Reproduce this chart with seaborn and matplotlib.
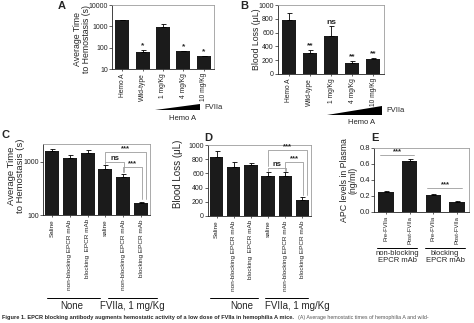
import matplotlib
matplotlib.use("Agg")
import matplotlib.pyplot as plt
import seaborn as sns
import pandas as pd
from matplotlib.patches import Polygon
from matplotlib.lines import Line2D
from matplotlib.ticker import FixedLocator, NullLocator, FixedFormatter

sns.set_theme(style="ticks")
plt.rcParams['font.family'] = ['Liberation Sans', 'DejaVu Sans']

# ---------------- data ----------------
ab_categories = ["Hemo A", "Wild-type", "1 mg/Kg", "4 mg/Kg", "10 mg/Kg"]
a_time = [1900, 63, 950, 72, 42]
a_time_top = [1900, 80, 1300, 72, 42]
a_marks = ["", "*", "", "*", "*"]
b_loss = [780, 308, 548, 163, 212]
b_loss_top = [885, 346, 692, 188, 236]
b_marks = ["", "**", "ns", "**", "**"]

cd_labels = ["Saline", "non-blocking EPCR mAb", "blocking  EPCR mAb",
             "saline", "non-blocking EPCR mAb", "blocking EPCR mAb"]
cd_groups = ["None", "None", "None",
             "FVIIa, 1 mg/Kg", "FVIIa, 1 mg/Kg", "FVIIa, 1 mg/Kg"]
c_time = [1585, 1155, 1475, 718, 524, 165]
c_time_top = [1700, 1330, 1650, 863, 587, 178]
d_loss = [836, 685, 718, 563, 563, 225]
d_loss_top = [920, 765, 742, 624, 615, 263]

e_labels = ["Pre-FVIIa", "Post-FVIIa", "Pre-FVIIa", "Post-FVIIa"]
e_groups = ["non-blocking\nEPCR mAb", "non-blocking\nEPCR mAb",
            "blocking\nEPCR mAb", "blocking\nEPCR mAb"]
e_apc = [0.25, 0.64, 0.2125, 0.125]
e_apc_top = [0.26, 0.66, 0.222, 0.133]

# significance brackets: (from, to, line level, left leg end, right leg end, text)
c_brackets = [(3, 5, 1515, 950, 200, "***"),
              (3, 4, 985, 905, 640, "ns"),
              (4, 5, 795, 650, 200, "***")]
d_brackets = [(3, 5, 930, 700, 290, "***"),
              (3, 4, 676, 640, 640, "ns"),
              (4, 5, 760, 640, 290, "***")]
e_brackets = [(0, 1, 0.71, "***"), (2, 3, 0.30, "***")]

caption_bold = ("Figure 1. EPCR blocking antibody augments hemostatic activity "
                "of a low dose of FVIIa in hemophilia A mice.")
caption_rest = "(A) Average hemostatic times of hemophilia A and wild-"

# ---------------- layout helpers ----------------
W, H = 474, 323
fig = plt.figure(figsize=(W / 100, H / 100), dpi=100)
BAR = "#1b1b1b"
GREY = "#9c9c9c"


def px_axes(x0, y0, x1, y1):
    return fig.add_axes([x0 / W, 1 - y1 / H, (x1 - x0) / W, (y1 - y0) / H])


def ftext(x, y, s, **kw):
    return fig.text(x / W, 1 - y / H, s, **kw)


def fline(x0, x1, y, **kw):
    fig.add_artist(Line2D([x0 / W, x1 / W], [1 - y / H, 1 - y / H],
                          transform=fig.transFigure, color="black", lw=0.7, **kw))


def style(ax, label_size=5, xrot=90, xsize=5):
    for s in ["left", "bottom"]:
        ax.spines[s].set_color("#222222")
        ax.spines[s].set_linewidth(0.6)
    for s in ["top", "right"]:
        ax.spines[s].set_visible(True)
        ax.spines[s].set_color(GREY)
        ax.spines[s].set_linewidth(0.6)
    ax.tick_params(axis="y", labelsize=label_size, length=2, width=0.5, pad=1,
                   colors="#222222")
    ax.tick_params(axis="x", labelsize=xsize, length=1.5, width=0.5, pad=1.5,
                   colors="#222222", labelrotation=xrot)
    ax.set_xlabel("")
    ax.grid(False)
    ax.set_facecolor("white")


def bars(ax, keys, vals, tops, width):
    df = pd.DataFrame({"k": keys, "v": vals})
    sns.barplot(data=df, x="k", y="v", color=BAR, saturation=1, width=width,
                errorbar=None, linewidth=0, ax=ax)
    n = len(vals)
    ax.errorbar(range(n), vals, yerr=[[0] * n, [t - v for t, v in zip(tops, vals)]],
                fmt="none", ecolor="black", elinewidth=0.6, capsize=1.8,
                capthick=0.6)
    ax.set_xlim(-0.5, n - 0.5)


def marks(ax, tops, texts):
    for i, (t, s) in enumerate(zip(tops, texts)):
        if s:
            ax.annotate(s, (i, t), xytext=(0, 0.3), textcoords="offset points",
                        ha="center", va="bottom", fontsize=6, fontweight="bold")


def brackets(ax, specs):
    for a, b, y, ya, yb, s in specs:
        xa, xb = a, b + (0.25 if b - a > 1 else 0.05)
        ax.plot([xa, xa, xb, xb], [ya, y, y, yb], color=GREY, lw=0.6,
                clip_on=False)
        ax.text((xa + xb) / 2, y, s, ha="center", va="bottom", fontsize=5.5,
                fontweight="bold", color="#222222")


# ---------------- Panel A ----------------
axA = px_axes(112, 5, 214, 69)
bars(axA, ab_categories, a_time, a_time_top, 0.68)
axA.set_yscale("log")
axA.set_ylim(10, 10000)
axA.yaxis.set_major_locator(FixedLocator([10, 100, 1000, 10000]))
axA.yaxis.set_major_formatter(FixedFormatter(["10", "100", "1000", "10000"]))
axA.yaxis.set_minor_locator(NullLocator())
marks(axA, a_time_top, a_marks)
style(axA)
axA.set_xticks(range(5))
axA.set_xticklabels(ab_categories, rotation=90, fontsize=4.8)
axA.set_ylabel("Average Time\nto Hemostasis (s)", fontsize=6.3, linespacing=1.0)
axA.yaxis.set_label_coords(-0.21, 0.47)

# ---------------- Panel B ----------------
axB = px_axes(278, 5, 384, 74)
bars(axB, ab_categories, b_loss, b_loss_top, 0.66)
axB.set_ylim(0, 1000)
axB.set_yticks([0, 200, 400, 600, 800, 1000])
marks(axB, b_loss_top, b_marks)
style(axB)
axB.set_xticks(range(5))
axB.set_xticklabels(ab_categories, rotation=90, fontsize=4.8)
axB.set_ylabel("Blood Loss (\u03bcL)", fontsize=6.3)
axB.yaxis.set_label_coords(-0.165, 0.5)

# wedges + labels under A and B
for (x0, x1, yb, yt, fx, fy, hx, hy) in [(155, 200, 110, 104, 204, 107, 183, 118),
                                          (327, 382, 115, 106, 386, 111, 362, 123)]:
    fig.add_artist(Polygon([[x0 / W, 1 - yb / H], [x1 / W, 1 - yb / H],
                            [x1 / W, 1 - yt / H]], closed=True,
                           transform=fig.transFigure, color="black", lw=0))
    ftext(fx, fy, "FVIIa", fontsize=5.5, va="center", ha="left")
    ftext(hx, hy, "Hemo A", fontsize=5.5, va="center", ha="center")

# ---------------- Panel C ----------------
cd_keys = [f"{g}|{l}|{i}" for i, (g, l) in enumerate(zip(cd_groups, cd_labels))]
axC = px_axes(43, 144, 150, 215)
bars(axC, cd_keys, c_time, c_time_top, 0.78)
axC.set_yscale("log")
axC.set_ylim(100, 2140)
axC.yaxis.set_major_locator(FixedLocator([100, 1000]))
axC.yaxis.set_major_formatter(FixedFormatter(["100", "1000"]))
axC.yaxis.set_minor_locator(NullLocator())
brackets(axC, c_brackets)
style(axC)
axC.set_xticks(range(6))
axC.set_xticklabels(cd_labels, rotation=90, fontsize=4.6)
axC.set_ylabel("Average Time\nto Hemostasis (s)", fontsize=6.8, linespacing=1.0)
axC.yaxis.set_label_coords(-0.17, 0.55)

# ---------------- Panel D ----------------
axD = px_axes(208, 145, 311, 216)
bars(axD, cd_keys, d_loss, d_loss_top, 0.78)
axD.set_ylim(0, 1000)
axD.set_yticks([0, 200, 400, 600, 800, 1000])
brackets(axD, d_brackets)
style(axD)
axD.set_xticks(range(6))
axD.set_xticklabels(cd_labels, rotation=90, fontsize=4.6)
axD.set_ylabel("Blood Loss (\u03bcL)", fontsize=7)
axD.yaxis.set_label_coords(-0.24, 0.6)

# group lines under C and D
for (x0, x1, tx, s) in [(47, 100, 72, "None"), (108, 157, 132, "FVIIa, 1 mg/Kg"),
                        (210, 258, 242, "None"), (265, 308, 297, "FVIIa, 1 mg/Kg")]:
    fline(x0, x1, 298)
    ftext(tx, 306, s, fontsize=7, ha="center", va="center")

# ---------------- Panel E ----------------
e_keys = [f"{g}|{l}|{i}" for i, (g, l) in enumerate(zip(e_groups, e_labels))]
axE = px_axes(374, 148, 469, 212)
bars(axE, e_keys, e_apc, e_apc_top, 0.66)
axE.set_ylim(0, 0.8)
axE.set_yticks([0.0, 0.2, 0.4, 0.6, 0.8])
axE.set_yticklabels(["0.0", "0.2", "0.4", "0.6", "0.8"])
for a, b, y, s in e_brackets:
    axE.plot([a - 0.25, b + 0.2], [y, y], color=GREY, lw=0.6)
    axE.text((a + b) / 2, y, s, ha="center", va="bottom", fontsize=5.5,
             fontweight="bold", color="#222222")
style(axE, label_size=5.5)
axE.set_xticks(range(4))
axE.set_xticklabels(e_labels, rotation=90, fontsize=4.2)
axE.set_ylabel("APC levels in Plasma\n(ng/ml)", fontsize=6.3, linespacing=1.0)
axE.yaxis.set_label_coords(-0.17, 0.5)

for (x0, x1, tx, s) in [(377, 417, 397, "non-blocking\nEPCR mAb"),
                        (425, 465, 445, "blocking\nEPCR mAb")]:
    fline(x0, x1, 248)
    ftext(tx, 250, s, fontsize=5.5, ha="center", va="top", linespacing=1.0)

# ---------------- panel letters ----------------
for (x, y, s) in [(62, 6, "A"), (244, 6, "B"), (5, 135, "C"), (208, 138, "D"),
                  (375, 138, "E")]:
    ftext(x, y, s, fontsize=8, fontweight="bold", ha="center", va="center")

# ---------------- caption ----------------
t1 = ftext(2, 317, caption_bold, fontsize=4.1, fontweight="bold", va="center",
           ha="left")
fig.canvas.draw()
bb = t1.get_window_extent()
x_end = bb.x1 / fig.dpi / fig.get_figwidth() * W
ftext(x_end + 4, 317, caption_rest, fontsize=3.8, color="#555555", va="center",
      ha="left")

fig.savefig("out.png", dpi=100, facecolor="white")
